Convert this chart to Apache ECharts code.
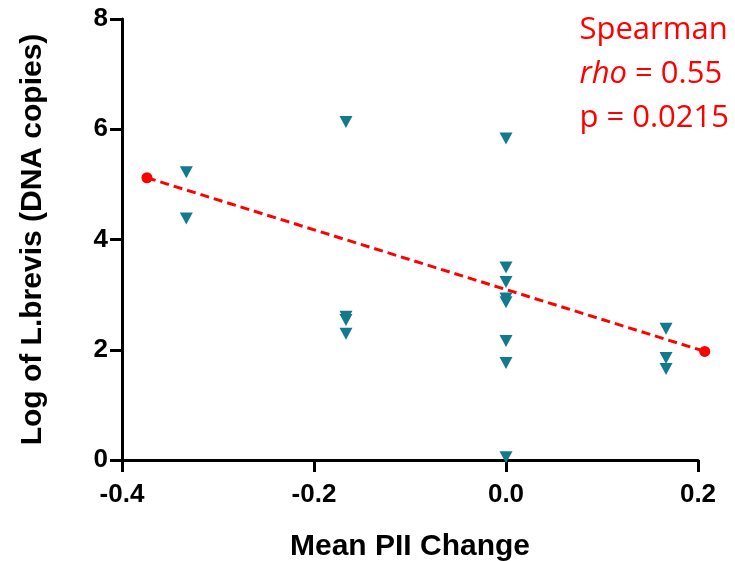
<!DOCTYPE html>
<html>
<head>
<meta charset="utf-8">
<script src="https://cdn.jsdelivr.net/npm/echarts@6/dist/echarts.min.js"></script>
<style>
  html, body { margin: 0; padding: 0; background: #fff; }
  #chart { width: 735px; height: 561px; }
</style>
</head>
<body>
<div id="chart"></div>
<script>
// observed points (x = mean PII change, y = log of L.brevis)
const pointsX = [-0.333, -0.333, -0.1667, -0.1667, -0.1667, -0.1667, 0, 0, 0, 0, 0, 0, 0, 0, 0.1667, 0.1667, 0.1667]
const pointsY = [5.22, 4.38, 6.13, 2.60, 2.54, 2.29, 5.83, 3.49, 3.23, 2.93, 2.86, 2.16, 1.76, 0.05, 2.38, 1.85, 1.65]

// fitted trend line end points
const fitX = [-0.374, 0.207]
const fitY = [5.12, 1.97]

const annotationLines = ['Spearman', 'rho', ' = 0.55', 'p = 0.0215']

const chart = echarts.init(document.getElementById('chart'))

const labelFont = { color: '#000', fontWeight: 'bold', fontFamily: 'Liberation Sans, Arial, sans-serif' }
const noteFont = { fontSize: 31, lineHeight: 44, fill: '#ff0000', fontFamily: 'Open Sans, Noto Sans, sans-serif' }

chart.setOption({
  animation: false,
  grid: { left: 122, right: 37, top: 19, bottom: 101, outerBoundsMode: 'none' },
  xAxis: {
    type: 'value',
    min: -0.4,
    max: 0.2,
    interval: 0.2,
    name: 'Mean PII Change',
    nameLocation: 'middle',
    nameGap: 72,
    nameTextStyle: { ...labelFont, fontSize: 30 },
    axisLine: { show: true, onZero: false, lineStyle: { color: '#000', width: 3 } },
    axisTick: { show: true, length: 12, lineStyle: { color: '#000', width: 3 } },
    axisLabel: {
      ...labelFont,
      fontSize: 26,
      margin: 22,
      formatter: v => (Math.abs(v) < 1e-9 ? 0 : v).toFixed(1),
    },
    splitLine: { show: false },
  },
  yAxis: {
    type: 'value',
    min: 0,
    max: 8,
    interval: 2,
    name: 'Log of L.brevis (DNA copies)',
    nameLocation: 'middle',
    nameGap: 74,
    nameRotate: 90,
    nameTextStyle: { ...labelFont, fontSize: 30 },
    axisLine: { show: true, onZero: false, lineStyle: { color: '#000', width: 3 } },
    axisTick: { show: true, length: 12, lineStyle: { color: '#000', width: 3 } },
    axisLabel: { ...labelFont, fontSize: 26, margin: 14 },
    splitLine: { show: false },
  },
  graphic: [{
    type: 'text',
    right: 6,
    top: 15,
    style: {
      text: '{n|' + annotationLines[0] + '}\n{i|' + annotationLines[1] + '}{n|' + annotationLines[2] + '}\n{n|' + annotationLines[3] + '}',
      align: 'right',
      fill: '#ff0000',
      rich: {
        n: { ...noteFont },
        i: { ...noteFont, fontStyle: 'italic' },
      },
    },
  }],
  series: [
    {
      type: 'line',
      data: fitX.map((x, i) => [x, fitY[i]]),
      clip: false,
      symbol: 'circle',
      symbolSize: 11,
      showSymbol: true,
      itemStyle: { color: '#ff0000' },
      lineStyle: { color: '#ff0000', width: 3, type: [9, 5] },
      z: 2,
    },
    {
      type: 'scatter',
      data: pointsX.map((x, i) => [x, pointsY[i]]),
      symbol: 'triangle',
      symbolRotate: 180,
      symbolSize: [13, 12],
      itemStyle: { color: '#137a8e', opacity: 1 },
      clip: false,
      z: 3,
    },
  ],
})
</script>
</body>
</html>
